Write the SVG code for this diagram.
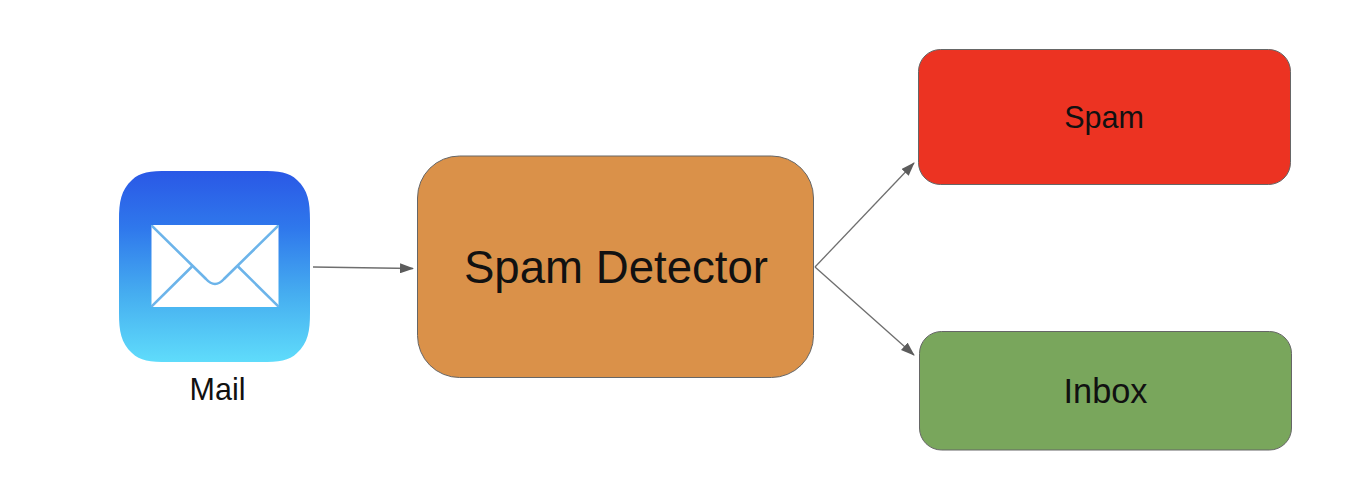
<svg xmlns="http://www.w3.org/2000/svg" width="1364" height="492" viewBox="0 0 1364 492">
  <style>
    text { font-family: "Liberation Sans", Arial, sans-serif; fill: #111111; text-anchor: middle; }
    .box { stroke: #666666; stroke-width: 1; }
    .conn { stroke: #6e6e6e; stroke-width: 1.3; fill: none; marker-end: url(#arrow); }
    .env { stroke: #6cb4ea; stroke-width: 2.6; fill: none; }
  </style>
  <defs>
    <linearGradient id="mailGrad" x1="0" y1="0" x2="0" y2="1">
      <stop offset="0" stop-color="#2a58e6"/>
      <stop offset="0.3" stop-color="#2f78ec"/>
      <stop offset="0.65" stop-color="#46aef0"/>
      <stop offset="1" stop-color="#5fdcfb"/>
    </linearGradient>
    <clipPath id="envClip"><rect x="151" y="225" width="128" height="82"/></clipPath>
    <marker id="arrow" viewBox="0 0 14 10" refX="13" refY="5" markerWidth="14" markerHeight="10" markerUnits="userSpaceOnUse" orient="auto">
      <path d="M0 0L14 5L0 10Z" fill="#5c5c5c"/>
    </marker>
  </defs>
  <rect width="1364" height="492" fill="#ffffff"/>
  <g id="connectors">
    <line class="conn" x1="313" y1="267" x2="413" y2="268.500"/>
    <line class="conn" x1="815" y1="267" x2="914" y2="163"/>
    <line class="conn" x1="815" y1="267" x2="914" y2="355"/>
  </g>
  <g id="mail">
    <path d="M168 171H261C279 171 289 172 297 180C308 190 310 202 310 220V313C310 331 308 343 297 353C289 361 279 362 261 362H168C150 362 140 361 132 353C121 343 119 331 119 313V220C119 202 121 190 132 180C140 172 150 171 168 171Z" fill="url(#mailGrad)"/>
    <rect x="151.500" y="225" width="127" height="82" fill="#ffffff"/>
    <g clip-path="url(#envClip)">
      <path class="env" d="M151 225L206 279Q215 289 224 279L279 225"/>
      <path class="env" d="M151 307L192 266.500M279 307L238 266.500"/>
    </g>
    <text x="217.500" y="400" font-size="30.500">Mail</text>
  </g>
  <g id="detector">
    <rect class="box" x="417.500" y="156" width="396" height="221.500" rx="42" ry="42" fill="#da9149"/>
    <text x="616" y="283" font-size="45.600">Spam Detector</text>
  </g>
  <g id="spam">
    <rect class="box" x="918.500" y="49.500" width="372" height="135" rx="22" ry="22" fill="#ec3322"/>
    <text x="1104" y="128" font-size="30.500">Spam</text>
  </g>
  <g id="inbox">
    <rect class="box" x="919.500" y="331.500" width="372" height="118.500" rx="22" ry="22" fill="#79a65c"/>
    <text x="1105.500" y="403" font-size="34.300">Inbox</text>
  </g>
</svg>
